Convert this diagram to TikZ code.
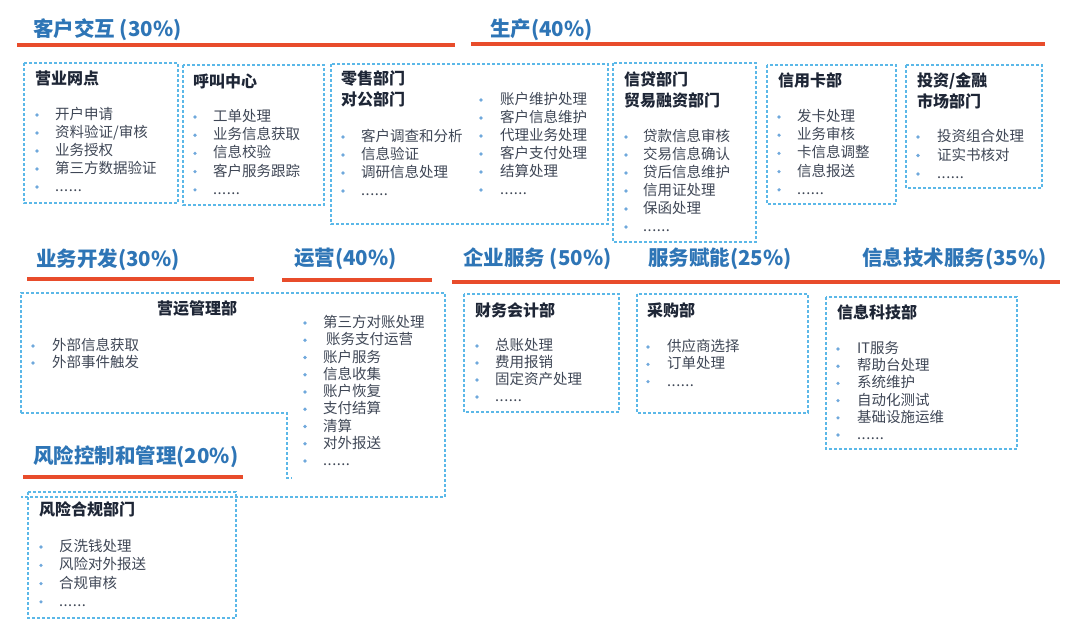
\documentclass[tikz,border=0pt]{standalone}
\usepackage{fontspec}
\setmainfont{Noto Sans CJK SC}
\definecolor{hblue}{HTML}{2E75B6}
\definecolor{hred}{HTML}{E84C2B}
\definecolor{dblue}{HTML}{5BB8E8}
\definecolor{bul}{HTML}{6FA8DC}
\definecolor{itx}{HTML}{3F4756}
\definecolor{ttx}{HTML}{1E2636}
\tikzset{
 head/.style={anchor=west, inner sep=0pt, text=hblue, font=\fontsize{20.5}{24}\selectfont\bfseries},
 redline/.style={draw=hred, line width=4pt},
 dbox/.style={draw=dblue, line width=1.1pt, dash pattern=on 3pt off 2pt},
 ttl/.style={anchor=west, inner sep=0pt, text=ttx, font=\fontsize{16}{20}\selectfont\bfseries},
 itm/.style={anchor=west, inner sep=0pt, text height=11pt, text depth=2pt, text=itx, font=\fontsize{14.5}{18}\selectfont},
 bulletdot/.style={fill=bul},
}
\newcommand\myellip{.\kern0.5pt.\kern0.5pt.\kern0.5pt.\kern0.5pt.\kern0.5pt.}
\newcommand\itemlist[6]{%
 \foreach \t [count=\i] in {#6}{%
   \fill[bulletdot] ({#2},{#4+(\i-1)*#5}) circle (1.8pt);
   \node[itm] (#1\i) at ({#3},{#4+(\i-1)*#5}) {\t};
 }}
\begin{document}
\begin{tikzpicture}[x=1pt,y=-1pt]
\useasboundingbox[fill=white] (0,0) rectangle (1080,638);

% headings and red rules
\node[head] (h1) at (33,30) {客户交互 (30\%)};
\node[head] (h2) at (490,30) {生产(40\%)};
\draw[redline] (17,45) -- (455,45);
\draw[redline] (471,44) -- (1045,44);

\node[head] (h3) at (36,260) {业务开发(30\%)};
\node[head] (h4) at (294,259) {运营(40\%)};
\node[head] (h5) at (463,259) {企业服务 (50\%)};
\node[head] (h6) at (648,259) {服务赋能(25\%)};
\node[head] (h7) at (862,259) {信息技术服务(35\%)};
\draw[redline] (27,279) -- (254,279);
\draw[redline] (282,280) -- (432,280);
\draw[redline] (452,282) -- (1060,282);

\node[head] (h8) at (33,457) {风险控制和管理(20\%)};
\draw[redline] (23,477) -- (243,477);

% top row boxes
\draw[dbox] (24,63) rectangle (178,203);
\node[ttl] (t1) at (35,78) {营业网点};
\itemlist{a}{37}{55}{115}{18}{开户申请,资料验证/审核,业务授权,第三方数据验证,\myellip}

\draw[dbox] (183,65) rectangle (324,205);
\node[ttl] (t2) at (193,81) {呼叫中心};
\itemlist{b}{195}{213}{117}{18.2}{工单处理,业务信息获取,信息校验,客户服务跟踪,\myellip}

\draw[dbox] (331,64) rectangle (608,224);
\node[ttl] (t3) at (341,78) {零售部门};
\node[ttl] (t3b) at (341,99) {对公部门};
\itemlist{c}{343}{361}{137}{18}{客户调查和分析,信息验证,调研信息处理,\myellip}
\itemlist{d}{481}{500}{100}{18}{账户维护处理,客户信息维护,代理业务处理,客户支付处理,结算处理,\myellip}

\draw[dbox] (613,63) rectangle (756,242);
\node[ttl] (t4) at (624,79) {信贷部门};
\node[ttl] (t4b) at (624,100) {贸易融资部门};
\itemlist{e}{626}{643}{137}{18}{贷款信息审核,交易信息确认,贷后信息维护,信用证处理,保函处理,\myellip}

\draw[dbox] (767,65) rectangle (896,204);
\node[ttl] (t5) at (778,80) {信用卡部};
\itemlist{f}{779}{797}{117}{18.2}{发卡处理,业务审核,卡信息调整,信息报送,\myellip}

\draw[dbox] (906,65) rectangle (1042,188);
\node[ttl] (t6) at (917,81) {投资/金融};
\node[ttl] (t6b) at (917,101) {市场部门};
\itemlist{g}{918}{937}{137}{18.5}{投资组合处理,证实书核对,\myellip}

% operations management outline
\draw[dbox] (21,413) -- (21,293) -- (445,293) -- (445,497) -- (21,497);
\draw[dbox] (21,413) -- (287,413) -- (287,478) -- (292,478);
\node[ttl, anchor=center] (t7) at (197,308) {营运管理部};
\itemlist{k}{33}{52}{346}{17}{外部信息获取,外部事件触发}
\itemlist{m}{305}{323}{323}{17.25}{第三方对账处理,\hspace*{3pt}账务支付运营,账户服务,信息收集,账户恢复,支付结算,清算,对外报送,\myellip}

% middle boxes
\draw[dbox] (464,294) rectangle (619,412);
\node[ttl] (t8) at (475,310) {财务会计部};
\itemlist{n}{477}{495}{346}{17}{总账处理,费用报销,固定资产处理,\myellip}

\draw[dbox] (637,294) rectangle (808,413);
\node[ttl] (t9) at (647,310) {采购部};
\itemlist{p}{648}{667}{347}{17.3}{供应商选择,订单处理,\myellip}

\draw[dbox] (826,297) rectangle (1017,449);
\node[ttl] (t10) at (837,312) {信息科技部};
\itemlist{q}{838}{857}{349}{17.2}{IT服务,帮助台处理,系统维护,自动化测试,基础设施运维,\myellip}

% risk box
\draw[dbox] (28,492) rectangle (236,618);
\node[ttl] (t11) at (39,509) {风险合规部门};
\itemlist{r}{41}{59}{547}{18.3}{反洗钱处理,风险对外报送,合规审核,\myellip}
\end{tikzpicture}
\end{document}
